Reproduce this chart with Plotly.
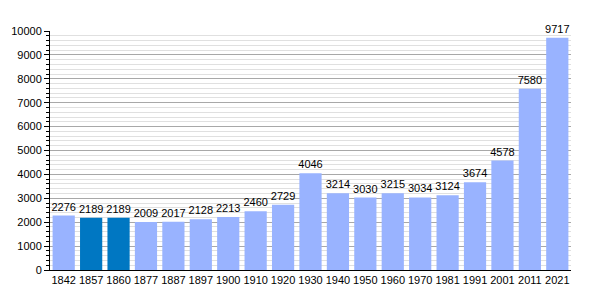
import plotly.graph_objects as go

years = ["1842", "1857", "1860", "1877", "1887", "1897", "1900", "1910", "1920", "1930",
         "1940", "1950", "1960", "1970", "1981", "1991", "2001", "2011", "2021"]
population = [2276, 2189, 2189, 2009, 2017, 2128, 2213, 2460, 2729, 4046,
              3214, 3030, 3215, 3034, 3124, 3674, 4578, 7580, 9717]
highlight = ["1857", "1860"]

colors = ["#0077c2" if y in highlight else "#99b3ff" for y in years]

fig = go.Figure(go.Bar(
    x=years, y=population,
    marker=dict(color=colors, line=dict(width=0)),
    text=[str(v) for v in population],
    textposition="outside",
    constraintext="none",
    textfont=dict(family="Liberation Sans, Arial, sans-serif", size=11, color="black"),
    cliponaxis=False,
))

fig.update_layout(
    width=600, height=300,
    margin=dict(l=50, r=29, t=31, b=30),
    paper_bgcolor="white", plot_bgcolor="white",
    bargap=0.19,
    showlegend=False,
    font=dict(family="Liberation Sans, Arial, sans-serif", size=11, color="black"),
    xaxis=dict(type="category", showline=True, linecolor="black", linewidth=1,
               ticks="", showgrid=False, tickfont=dict(size=11)),
    yaxis=dict(range=[0, 10000], dtick=1000, tickformat="d", showline=True,
               linecolor="black", linewidth=1,
               ticks="outside", ticklen=5, tickcolor="black", tickwidth=1,
               showgrid=True, gridcolor="#a8a8a8", gridwidth=1, zeroline=False,
               tickfont=dict(size=11),
               minor=dict(dtick=200, showgrid=True, gridcolor="#e0e0e0", gridwidth=1,
                          ticks="outside", ticklen=3, tickcolor="black")),
)

fig.write_html("out.html")
